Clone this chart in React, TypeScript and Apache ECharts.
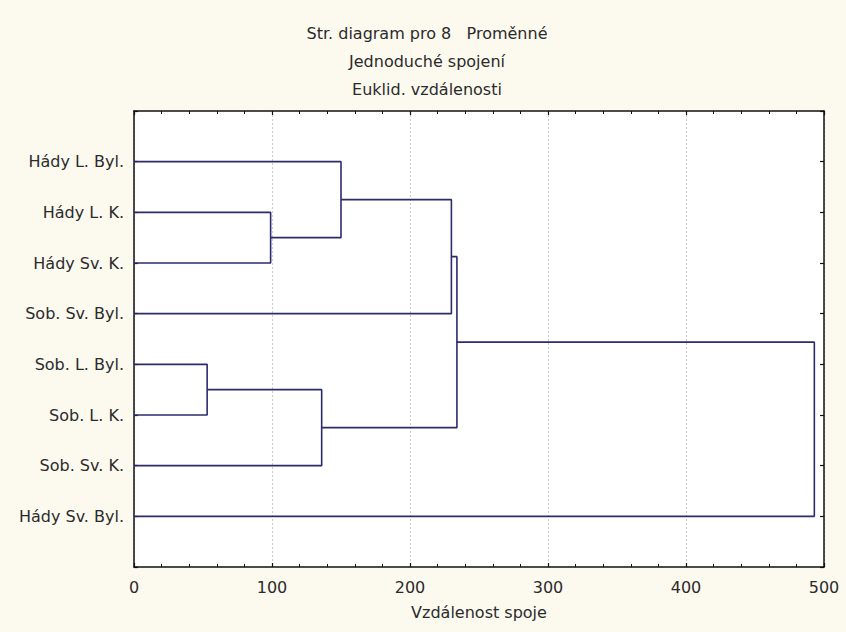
import React, { useEffect, useRef } from "react";
import * as echarts from "echarts";

// Leaves, top to bottom
const leafLabels: string[] = [
  "Hády L. Byl.",
  "Hády L. K.",
  "Hády Sv. K.",
  "Sob. Sv. Byl.",
  "Sob. L. Byl.",
  "Sob. L. K.",
  "Sob. Sv. K.",
  "Hády Sv. Byl.",
];

// Agglomeration steps: node ids 0..7 are leaves, new nodes get ids 8, 9, ...
const mergeLeft: number[] = [1, 0, 9, 4, 11, 10, 13];
const mergeRight: number[] = [2, 8, 3, 5, 6, 12, 7];
const mergeDistance: number[] = [99, 150, 230, 53, 136, 234, 493];

const xTicks: number[] = [0, 100, 200, 300, 400, 500];

const titleLines: string[] = [
  "Str. diagram pro 8   Proměnné",
  "Jednoduché spojení",
  "Euklid. vzdálenosti",
];
const xAxisName = "Vzdálenost spoje";

const FONT = "DejaVu Sans";
const FS = 16;
const LINE = "#2c2b6e";
const TEXT = "#2b2b2b";

export default function App() {
  const ref = useRef<HTMLDivElement>(null);

  useEffect(() => {
    if (!ref.current) return;
    const chart = echarts.init(ref.current, undefined, { renderer: "svg" });

    // compute node positions
    const nodeY: number[] = leafLabels.map((_, i) => i + 1);
    const nodeH: number[] = leafLabels.map(() => 0);
    const series: any[] = [];
    mergeDistance.forEach((h, k) => {
      const a = mergeLeft[k];
      const b = mergeRight[k];
      const ya = nodeY[a];
      const yb = nodeY[b];
      series.push({
        type: "line",
        xAxisIndex: 0,
        yAxisIndex: 0,
        data: [
          [nodeH[a], ya],
          [h, ya],
          [h, yb],
          [nodeH[b], yb],
        ],
        showSymbol: false,
        symbol: "none",
        silent: true,
        lineStyle: { color: LINE, width: 1.6 },
        z: 5,
      });
      nodeY.push((ya + yb) / 2);
      nodeH.push(h);
    });

    const xMax = xTicks[xTicks.length - 1];
    const xInterval = xTicks[1] - xTicks[0];

    const baseX = {
      type: "value",
      min: xTicks[0],
      max: xMax,
      interval: xInterval,
      axisLine: { show: true, onZero: false, lineStyle: { color: "#111", width: 1.5 } },
      axisTick: { show: true, inside: true, length: 4, lineStyle: { color: "#111", width: 1.2 } },
      minorTick: { show: true, splitNumber: 5, length: 3, lineStyle: { color: "#111", width: 1 } },
    };
    const baseY = {
      type: "value",
      min: 0,
      max: leafLabels.length + 1,
      interval: 1,
      inverse: true,
      axisLine: { show: true, onZero: false, lineStyle: { color: "#111", width: 1.5 } },
      axisTick: { show: true, inside: true, length: 4, lineStyle: { color: "#111", width: 1.2 } },
      splitLine: { show: false },
    };

    chart.setOption({
      animation: false,
      backgroundColor: "#fcf9ef",
      textStyle: { fontFamily: FONT },
      grid: {
        left: 134,
        right: 22,
        top: 111,
        bottom: 65,
        show: true,
        backgroundColor: "#ffffff",
        borderWidth: 0,
      },
      graphic: titleLines.map((t, i) => ({
        type: "text",
        x: 427,
        y: 33 + i * 28,
        style: {
          text: t,
          fontFamily: FONT,
          fontSize: FS,
          fill: TEXT,
          textAlign: "center",
          textVerticalAlign: "middle",
        },
      })),
      xAxis: [
        {
          ...baseX,
          position: "bottom",
          name: xAxisName,
          nameLocation: "middle",
          nameGap: 37,
          nameTextStyle: { fontFamily: FONT, fontSize: FS, color: TEXT },
          axisLabel: { show: true, fontFamily: FONT, fontSize: FS, color: TEXT, margin: 12 },
          splitLine: { show: true, lineStyle: { color: "#c9c9da", width: 1, type: [2, 2] } },
        },
        {
          ...baseX,
          position: "top",
          axisLabel: { show: false },
          splitLine: { show: false },
        },
      ],
      yAxis: [
        {
          ...baseY,
          position: "left",
          axisLabel: {
            show: true,
            fontFamily: FONT,
            fontSize: FS,
            color: TEXT,
            margin: 10,
            formatter: (v: number) =>
              v >= 1 && v <= leafLabels.length ? leafLabels[v - 1] : "",
          },
        },
        {
          ...baseY,
          position: "right",
          axisLabel: { show: false },
        },
      ],
      series,
    });

    return () => chart.dispose();
  }, []);

  return (
    <div
      ref={ref}
      style={{ position: "fixed", left: 0, top: 0, width: 846, height: 632 }}
    />
  );
}
